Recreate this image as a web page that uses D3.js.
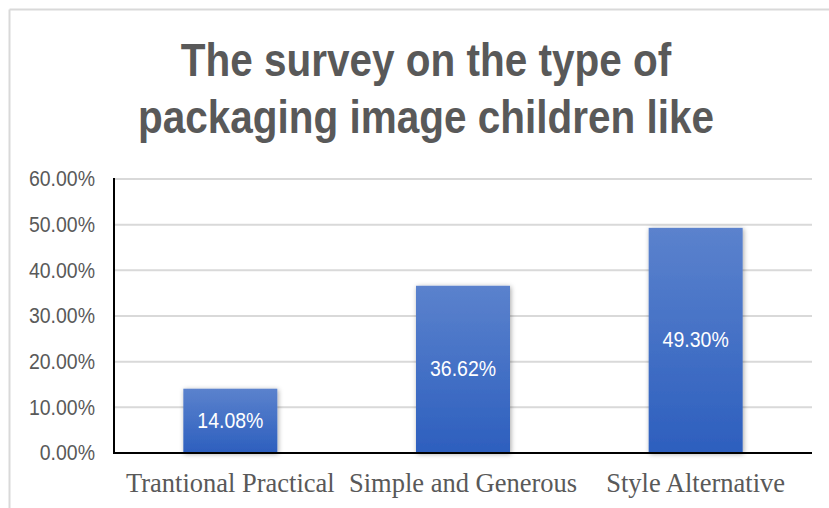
<!DOCTYPE html>
<html>
<head>
<meta charset="utf-8">
<script src="https://cdn.jsdelivr.net/npm/d3@7"></script>
<style>
  html, body { margin: 0; padding: 0; background: #fff; }
  svg { display: block; }
</style>
</head>
<body>
<svg id="chart" width="829" height="508"></svg>
<script>
// Survey results: share of children preferring each packaging image style
const categories = ["Trantional Practical", "Simple and Generous", "Style Alternative"];
const values = [14.08, 36.62, 49.30];
const yTicks = [0, 10, 20, 30, 40, 50, 60];
const titleLines = ["The survey on the type of", "packaging image children like"];

const W = 829, H = 508;
const margin = { left: 114, right: 17, top: 179, bottom: 55 };
const sans = "'Liberation Sans', Arial, sans-serif";

const svg = d3.select("#chart");

// Outer frame (only top and left edges visible)
svg.append("line").attr("x1", 9.5).attr("x2", W).attr("y1", 9.5).attr("y2", 9.5)
  .attr("stroke", "#d9d9d9").attr("stroke-width", 2);
svg.append("line").attr("x1", 9.5).attr("x2", 9.5).attr("y1", 9.5).attr("y2", H)
  .attr("stroke", "#d9d9d9").attr("stroke-width", 2);

// Title (slightly tall, narrow letterforms)
svg.append("g").selectAll("text").data(titleLines).join("text")
  .attr("transform", (d, i) => `translate(426,${76 + i * 57}) scale(1,1.14)`)
  .attr("text-anchor", "middle")
  .attr("font-family", sans)
  .attr("font-weight", "bold")
  .attr("font-size", 40.5)
  .attr("fill", "#595959")
  .text(d => d);

const x = d3.scaleBand()
  .domain(categories)
  .range([margin.left, W - margin.right])
  .paddingInner(0.596)
  .paddingOuter(0.298);

const y = d3.scaleLinear()
  .domain([0, 60])
  .range([H - margin.bottom, margin.top]);

// Gridlines
svg.append("g").selectAll("line").data(yTicks.filter(t => t > 0)).join("line")
  .attr("x1", margin.left).attr("x2", W - margin.right)
  .attr("y1", d => y(d)).attr("y2", d => y(d))
  .attr("stroke", "#d9d9d9").attr("stroke-width", 2);

// Y axis tick labels
const yAxis = d3.axisLeft(y).tickValues(yTicks).tickSize(0).tickPadding(19)
  .tickFormat(d => d.toFixed(2) + "%");
const gy = svg.append("g").attr("transform", `translate(${margin.left},0)`).call(yAxis);
gy.select(".domain").remove();
gy.selectAll("text")
  .attr("font-family", sans)
  .attr("font-size", 19.5)
  .attr("fill", "#595959")
  .attr("transform", "scale(1,1.1)");

// Bar fill gradient and soft shadow
const defs = svg.append("defs");
const grad = defs.append("linearGradient").attr("id", "barGrad")
  .attr("x1", 0).attr("y1", 0).attr("x2", 0).attr("y2", 1);
grad.append("stop").attr("offset", "0%").attr("stop-color", "#5b82cd");
grad.append("stop").attr("offset", "100%").attr("stop-color", "#2d5fbe");
const shadow = defs.append("filter").attr("id", "barShadow")
  .attr("x", "-20%").attr("y", "-10%").attr("width", "140%").attr("height", "120%");
shadow.append("feDropShadow").attr("dx", 1).attr("dy", 1).attr("stdDeviation", 2.5)
  .attr("flood-color", "#000").attr("flood-opacity", 0.35);

// Bars
svg.append("g").selectAll("rect").data(values).join("rect")
  .attr("x", (d, i) => x(categories[i]))
  .attr("width", x.bandwidth())
  .attr("y", d => y(d))
  .attr("height", d => y(0) - y(d))
  .attr("fill", "url(#barGrad)")
  .attr("filter", "url(#barShadow)");

// Value labels centred in each bar
svg.append("g").selectAll("text").data(values).join("text")
  .attr("transform", (d, i) =>
    `translate(${x(categories[i]) + x.bandwidth() / 2},${(y(d) + y(0)) / 2 + 7}) scale(1,1.1)`)
  .attr("text-anchor", "middle")
  .attr("font-family", sans)
  .attr("font-size", 19.5)
  .attr("fill", "#ffffff")
  .text(d => d.toFixed(2) + "%");

// Axis lines
svg.append("line")
  .attr("x1", margin.left).attr("x2", margin.left)
  .attr("y1", y(60) - 1).attr("y2", y(0) + 1)
  .attr("stroke", "#000").attr("stroke-width", 2);
svg.append("line")
  .attr("x1", margin.left - 1).attr("x2", W - margin.right)
  .attr("y1", y(0)).attr("y2", y(0))
  .attr("stroke", "#000").attr("stroke-width", 2);

// Category labels
svg.append("g").selectAll("text").data(categories).join("text")
  .attr("x", d => x(d) + x.bandwidth() / 2)
  .attr("y", 492)
  .attr("text-anchor", "middle")
  .attr("font-family", "'Liberation Serif', 'Times New Roman', serif")
  .attr("font-size", 26.5)
  .attr("fill", "#595959")
  .text(d => d);
</script>
</body>
</html>
